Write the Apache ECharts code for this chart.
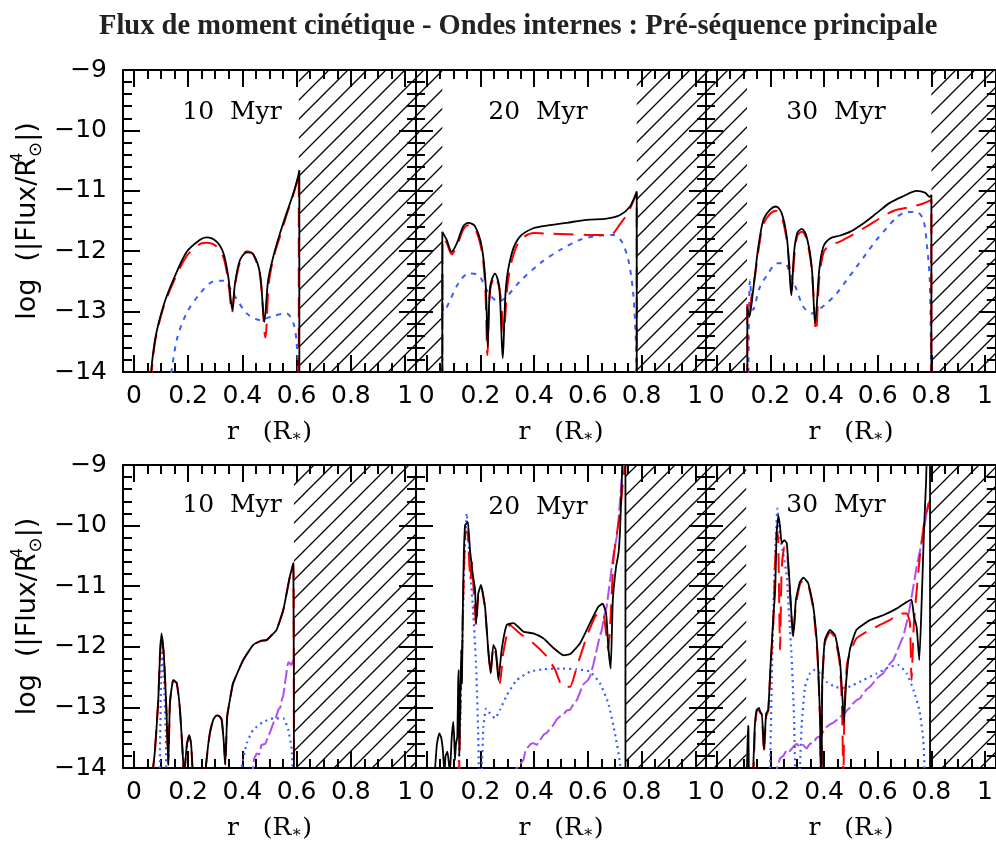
<!DOCTYPE html>
<html>
<head>
<meta charset="utf-8">
<script src="https://cdn.jsdelivr.net/npm/echarts@6/dist/echarts.min.js"></script>
<style>
  html, body { margin: 0; background: #fff; }
  #chart { width: 996px; height: 845px; }
</style>
</head>
<body>
<div id="chart"></div>
<script>
// ---- data: [r/R*, log|Flux|] ----
const ages = ['10  Myr', '20  Myr', '30  Myr'];
const xTicks = [0, 0.2, 0.4, 0.6, 0.8, 1];
const xMinor = [0.05, 0.1, 0.15, 0.25, 0.3, 0.35, 0.45, 0.5, 0.55, 0.65, 0.7, 0.75, 0.85, 0.9, 0.95];

// top row (pre-main sequence, without purple term)
const black10a = [[0.059,-14.2],[0.078,-13.47],[0.108,-12.92],[0.145,-12.48],[0.195,-12.01],[0.244,-11.81],[0.268,-11.77],[0.305,-11.84],[0.33,-12.03],[0.348,-12.42],[0.363,-12.97],[0.373,-12.53],[0.391,-12.15],[0.416,-12.02],[0.44,-12.05],[0.465,-12.37],[0.481,-13.17],[0.495,-12.48],[0.514,-12.09],[0.539,-11.7],[0.563,-11.37],[0.588,-11.04],[0.604,-10.79],[0.61,-10.66],[0.61,-14.2]];
const red10a = [[0.062,-14.2],[0.078,-13.5],[0.108,-12.95],[0.145,-12.52],[0.195,-12.08],[0.244,-11.88],[0.268,-11.86],[0.305,-11.92],[0.33,-12.1],[0.348,-12.5],[0.362,-13.02],[0.372,-12.6],[0.39,-12.2],[0.416,-12.0],[0.44,-12.05],[0.465,-12.4],[0.485,-13.43],[0.497,-12.55],[0.514,-12.12],[0.539,-11.75],[0.563,-11.4],[0.588,-11.06],[0.604,-10.8],[0.608,-10.7],[0.608,-14.2]];
const blue10a = [[0.133,-14.2],[0.158,-13.47],[0.195,-13.02],[0.244,-12.7],[0.293,-12.5],[0.33,-12.49],[0.366,-12.7],[0.416,-13.03],[0.465,-13.14],[0.514,-13.07],[0.563,-13.03],[0.588,-13.19],[0.6,-13.52],[0.607,-14.2]];

const black20a = [[0.058,-14.2],[0.058,-11.68],[0.074,-11.81],[0.093,-12.01],[0.112,-11.87],[0.136,-11.59],[0.155,-11.53],[0.18,-11.59],[0.205,-11.93],[0.22,-12.59],[0.227,-13.58],[0.236,-12.59],[0.254,-12.37],[0.27,-12.59],[0.283,-13.77],[0.295,-12.59],[0.317,-12.03],[0.347,-11.76],[0.397,-11.62],[0.459,-11.57],[0.521,-11.53],[0.596,-11.48],[0.67,-11.46],[0.72,-11.4],[0.757,-11.26],[0.782,-11.01],[0.782,-14.2]];
const red20a = [[0.058,-14.2],[0.059,-11.78],[0.074,-11.86],[0.093,-12.05],[0.112,-11.92],[0.136,-11.64],[0.155,-11.57],[0.18,-11.63],[0.205,-12.0],[0.218,-12.6],[0.226,-13.72],[0.236,-12.65],[0.254,-12.42],[0.272,-12.65],[0.287,-13.33],[0.3,-12.6],[0.317,-12.15],[0.347,-11.82],[0.4,-11.7],[0.46,-11.71],[0.53,-11.72],[0.6,-11.73],[0.683,-11.73],[0.72,-11.55],[0.751,-11.35],[0.776,-11.1],[0.782,-11.05],[0.782,-14.2]];
const blue20a = [[0.058,-14.2],[0.058,-12.37],[0.062,-13.0],[0.072,-12.95],[0.087,-12.81],[0.118,-12.53],[0.155,-12.37],[0.192,-12.39],[0.223,-12.64],[0.267,-12.84],[0.298,-12.75],[0.347,-12.5],[0.422,-12.2],[0.496,-11.98],[0.571,-11.81],[0.633,-11.75],[0.695,-11.73],[0.726,-11.84],[0.751,-12.15],[0.769,-12.7],[0.779,-13.52],[0.782,-14.2]];

const black30a = [[0.114,-14.2],[0.114,-12.92],[0.122,-13.08],[0.13,-12.86],[0.143,-12.37],[0.155,-11.93],[0.174,-11.48],[0.199,-11.31],[0.221,-11.26],[0.242,-11.37],[0.261,-11.76],[0.27,-12.26],[0.278,-12.73],[0.288,-12.03],[0.3,-11.7],[0.317,-11.63],[0.335,-11.76],[0.354,-12.26],[0.367,-13.19],[0.382,-12.31],[0.397,-11.93],[0.422,-11.79],[0.459,-11.74],[0.496,-11.68],[0.546,-11.54],[0.596,-11.37],[0.645,-11.2],[0.695,-11.09],[0.745,-11.0],[0.776,-11.03],[0.794,-11.1],[0.8,-11.07],[0.8,-14.2]];
const red30a = [[0.114,-14.2],[0.114,-12.85],[0.122,-13.0],[0.13,-12.75],[0.143,-12.4],[0.155,-12.0],[0.174,-11.55],[0.199,-11.38],[0.221,-11.33],[0.242,-11.44],[0.261,-11.82],[0.272,-12.3],[0.279,-12.65],[0.289,-12.1],[0.3,-11.75],[0.317,-11.68],[0.335,-11.8],[0.354,-12.3],[0.37,-13.33],[0.383,-12.4],[0.4,-12.0],[0.422,-11.9],[0.459,-11.84],[0.51,-11.72],[0.559,-11.59],[0.61,-11.45],[0.66,-11.33],[0.72,-11.27],[0.77,-11.21],[0.8,-11.15],[0.8,-14.2]];
const blue30a = [[0.118,-14.2],[0.124,-12.48],[0.136,-12.97],[0.161,-12.59],[0.192,-12.37],[0.223,-12.2],[0.254,-12.2],[0.273,-12.37],[0.298,-12.64],[0.323,-12.92],[0.354,-13.03],[0.385,-12.95],[0.41,-12.86],[0.447,-12.7],[0.484,-12.48],[0.521,-12.26],[0.559,-12.03],[0.596,-11.81],[0.633,-11.62],[0.67,-11.44],[0.708,-11.35],[0.745,-11.35],[0.77,-11.48],[0.784,-11.93],[0.794,-12.48],[0.8,-14.2]];

// bottom row (with purple term)
const black10b = [[0.066,-14.2],[0.078,-13.7],[0.09,-12.88],[0.096,-12.16],[0.102,-11.78],[0.111,-12.16],[0.121,-13.15],[0.127,-13.95],[0.133,-12.93],[0.145,-12.55],[0.158,-12.6],[0.17,-13.04],[0.182,-13.92],[0.184,-14.3],[0.188,-14.0],[0.196,-13.6],[0.204,-13.46],[0.211,-13.6],[0.216,-14.0],[0.22,-14.3],[0.262,-14.3],[0.265,-14.0],[0.28,-13.43],[0.293,-13.2],[0.305,-13.13],[0.316,-13.15],[0.324,-13.21],[0.332,-13.6],[0.337,-13.95],[0.344,-13.15],[0.355,-12.85],[0.366,-12.6],[0.403,-12.22],[0.44,-11.97],[0.47,-11.9],[0.489,-11.89],[0.51,-11.8],[0.526,-11.72],[0.551,-11.39],[0.575,-10.84],[0.588,-10.62],[0.59,-14.2]];
const red10b = black10b;
const blue10b = [[0.095,-14.2],[0.1,-12.6],[0.106,-12.0],[0.111,-12.6],[0.118,-13.43],[0.124,-14.3],[0.395,-14.3],[0.397,-14.0],[0.416,-13.59],[0.44,-13.37],[0.477,-13.24],[0.514,-13.18],[0.551,-13.18],[0.569,-13.37],[0.582,-13.7],[0.586,-14.2]];
const purple10b = [[0.434,-14.2],[0.443,-13.85],[0.453,-13.76],[0.462,-13.78],[0.47,-13.62],[0.477,-13.59],[0.485,-13.6],[0.495,-13.48],[0.503,-13.4],[0.514,-13.26],[0.522,-13.2],[0.532,-13.04],[0.54,-13.0],[0.545,-12.88],[0.551,-12.8],[0.557,-12.6],[0.562,-12.45],[0.565,-12.33],[0.57,-12.25],[0.575,-12.22],[0.58,-12.3],[0.585,-12.27],[0.59,-12.2]];

const black20b = [[0.025,-14.2],[0.031,-14.0],[0.038,-13.6],[0.047,-13.43],[0.054,-13.5],[0.06,-13.7],[0.066,-14.1],[0.07,-13.8],[0.077,-13.73],[0.082,-13.9],[0.086,-14.1],[0.093,-13.5],[0.099,-13.24],[0.103,-13.6],[0.105,-13.87],[0.109,-13.6],[0.114,-13.48],[0.117,-12.6],[0.119,-12.38],[0.121,-13.8],[0.124,-13.2],[0.128,-12.05],[0.131,-12.6],[0.134,-11.5],[0.138,-10.5],[0.143,-9.99],[0.153,-9.94],[0.161,-10.4],[0.171,-10.79],[0.18,-11.06],[0.184,-11.61],[0.192,-11.12],[0.202,-10.98],[0.217,-11.34],[0.229,-12.05],[0.238,-12.44],[0.248,-11.97],[0.257,-12.05],[0.267,-12.55],[0.279,-12.05],[0.298,-11.64],[0.323,-11.61],[0.36,-11.75],[0.397,-11.78],[0.434,-11.86],[0.472,-12.02],[0.509,-12.14],[0.534,-12.12],[0.571,-11.94],[0.608,-11.61],[0.639,-11.34],[0.655,-11.29],[0.668,-11.45],[0.676,-12.0],[0.685,-12.36],[0.693,-11.23],[0.705,-10.68],[0.714,-10.46],[0.72,-10.07],[0.726,-9.3],[0.732,-8.7],[0.74,-8.7],[0.74,-14.2]];
const red20b = [[0.12,-14.2],[0.125,-13.0],[0.131,-12.2],[0.138,-10.8],[0.145,-10.1],[0.152,-10.1],[0.158,-10.6],[0.163,-10.9],[0.168,-10.6],[0.175,-11.1],[0.184,-11.65],[0.192,-11.15],[0.202,-11.0],[0.217,-11.36],[0.229,-12.05],[0.238,-12.44],[0.248,-12.0],[0.257,-12.1],[0.273,-12.6],[0.285,-12.1],[0.31,-11.64],[0.347,-11.78],[0.397,-11.94],[0.447,-12.16],[0.478,-12.38],[0.506,-12.66],[0.534,-12.66],[0.559,-12.33],[0.596,-11.83],[0.627,-11.5],[0.645,-11.42],[0.66,-11.5],[0.676,-12.05],[0.685,-11.5],[0.695,-10.57],[0.708,-10.13],[0.72,-9.8],[0.73,-9.3],[0.738,-9.0]];
const blue20b = [[0.117,-14.2],[0.125,-13.2],[0.132,-12.0],[0.14,-10.6],[0.149,-9.8],[0.161,-10.68],[0.174,-11.5],[0.184,-12.33],[0.192,-13.48],[0.196,-14.3],[0.203,-14.3],[0.205,-14.0],[0.211,-13.32],[0.221,-13.02],[0.236,-13.1],[0.254,-13.18],[0.273,-13.04],[0.298,-12.8],[0.335,-12.55],[0.385,-12.41],[0.434,-12.37],[0.496,-12.36],[0.559,-12.37],[0.608,-12.41],[0.645,-12.6],[0.676,-12.93],[0.701,-13.43],[0.72,-13.92],[0.722,-14.2]];
const purple20b = [[0.323,-14.2],[0.335,-14.0],[0.345,-13.95],[0.36,-13.87],[0.368,-13.7],[0.378,-13.65],[0.388,-13.6],[0.397,-13.59],[0.41,-13.62],[0.422,-13.54],[0.435,-13.45],[0.447,-13.42],[0.459,-13.35],[0.47,-13.3],[0.484,-13.2],[0.496,-13.15],[0.509,-13.12],[0.521,-13.05],[0.534,-13.04],[0.546,-12.95],[0.559,-12.88],[0.571,-12.75],[0.583,-12.62],[0.59,-12.6],[0.6,-12.55],[0.608,-12.49],[0.62,-12.3],[0.633,-12.05],[0.643,-11.85],[0.652,-11.72],[0.66,-11.5],[0.67,-11.34],[0.68,-11.0],[0.689,-10.68],[0.698,-10.4],[0.708,-10.18],[0.715,-9.85],[0.72,-9.58],[0.73,-9.0]];

const black30b = [[0.112,-14.2],[0.116,-13.3],[0.118,-13.32],[0.121,-14.2],[0.133,-14.2],[0.136,-14.0],[0.142,-13.3],[0.149,-13.04],[0.158,-13.01],[0.163,-13.1],[0.168,-13.1],[0.176,-13.7],[0.184,-13.1],[0.192,-13.04],[0.201,-12.27],[0.211,-11.5],[0.218,-11.06],[0.223,-10.13],[0.23,-9.83],[0.236,-10.02],[0.242,-10.29],[0.252,-10.24],[0.261,-10.29],[0.27,-10.84],[0.279,-11.5],[0.285,-11.83],[0.295,-11.23],[0.31,-10.93],[0.323,-10.86],[0.341,-10.95],[0.36,-11.34],[0.375,-12.05],[0.385,-13.15],[0.388,-14.2],[0.391,-14.2],[0.393,-12.6],[0.403,-11.89],[0.422,-11.72],[0.441,-11.81],[0.459,-12.22],[0.469,-12.88],[0.474,-13.26],[0.482,-12.6],[0.496,-12.05],[0.521,-11.72],[0.571,-11.56],[0.62,-11.48],[0.67,-11.37],[0.708,-11.26],[0.726,-11.22],[0.735,-11.5],[0.745,-11.67],[0.755,-12.22],[0.764,-11.23],[0.772,-10.13],[0.78,-9.3],[0.785,-8.7],[0.795,-8.7],[0.795,-14.2]];
const red30b = [[0.12,-14.2],[0.136,-14.1],[0.142,-13.4],[0.149,-13.06],[0.158,-13.05],[0.168,-13.12],[0.176,-13.75],[0.184,-13.15],[0.192,-13.06],[0.201,-12.3],[0.211,-11.6],[0.217,-10.68],[0.224,-10.1],[0.229,-10.2],[0.236,-12.05],[0.242,-10.7],[0.252,-10.35],[0.261,-10.4],[0.27,-10.9],[0.279,-11.55],[0.285,-11.85],[0.295,-11.3],[0.31,-10.97],[0.323,-10.9],[0.341,-10.98],[0.36,-11.38],[0.375,-12.1],[0.385,-13.2],[0.388,-14.2],[0.391,-14.2],[0.393,-12.65],[0.403,-11.93],[0.422,-11.76],[0.441,-11.85],[0.459,-12.3],[0.467,-13.0],[0.472,-14.2],[0.476,-13.0],[0.485,-12.3],[0.496,-12.1],[0.521,-11.86],[0.571,-11.72],[0.645,-11.56],[0.683,-11.45],[0.708,-11.45],[0.72,-11.6],[0.726,-12.55],[0.735,-11.6],[0.757,-10.51],[0.775,-9.9],[0.795,-9.58]];
const blue30b = [[0.198,-14.2],[0.205,-12.6],[0.213,-11.1],[0.221,-10.13],[0.226,-9.72],[0.236,-10.18],[0.248,-10.46],[0.261,-10.84],[0.27,-11.5],[0.279,-12.16],[0.288,-13.15],[0.295,-14.3],[0.308,-14.3],[0.31,-14.0],[0.317,-13.26],[0.329,-12.66],[0.347,-12.44],[0.366,-12.38],[0.385,-12.44],[0.41,-12.58],[0.441,-12.66],[0.478,-12.68],[0.509,-12.63],[0.546,-12.55],[0.596,-12.44],[0.645,-12.33],[0.676,-12.3],[0.708,-12.44],[0.733,-12.71],[0.755,-13.04],[0.77,-13.54],[0.776,-14.2]];
const purple30b = [[0.217,-14.2],[0.225,-14.0],[0.236,-13.84],[0.248,-13.8],[0.261,-13.7],[0.272,-13.72],[0.285,-13.65],[0.298,-13.6],[0.31,-13.65],[0.322,-13.62],[0.335,-13.68],[0.347,-13.6],[0.36,-13.59],[0.372,-13.5],[0.385,-13.48],[0.397,-13.4],[0.41,-13.32],[0.422,-13.28],[0.435,-13.25],[0.447,-13.21],[0.46,-13.15],[0.472,-13.13],[0.485,-13.05],[0.497,-13.0],[0.509,-12.93],[0.521,-12.88],[0.534,-12.85],[0.546,-12.77],[0.559,-12.7],[0.571,-12.66],[0.583,-12.6],[0.596,-12.52],[0.608,-12.48],[0.62,-12.44],[0.633,-12.35],[0.645,-12.28],[0.658,-12.22],[0.67,-12.1],[0.683,-11.95],[0.695,-11.83],[0.708,-11.6],[0.72,-11.34],[0.733,-11.0],[0.745,-10.68],[0.758,-10.4],[0.77,-10.13],[0.78,-9.85],[0.788,-9.63]];

// hatched (excluded) zones, [r0, r1]
const hatch10a = [[0.608, 1.04]];
const hatch20a = [[-0.04, 0.058], [0.782, 1.04]];
const hatch30a = [[-0.04, 0.113], [0.8, 1.04]];
const hatch10b = [[0.59, 1.04]];
const hatch20b = [[0.74, 1.04]];
const hatch30b = [[-0.04, 0.11], [0.795, 1.04]];

const panels = [
  { age: ages[0], black: black10a, red: red10a, blue: blue10a, purple: null, hatch: hatch10a },
  { age: ages[1], black: black20a, red: red20a, blue: blue20a, purple: null, hatch: hatch20a },
  { age: ages[2], black: black30a, red: red30a, blue: blue30a, purple: null, hatch: hatch30a },
  { age: ages[0], black: black10b, red: red10b, blue: blue10b, purple: purple10b, hatch: hatch10b },
  { age: ages[1], black: black20b, red: red20b, blue: blue20b, purple: purple20b, hatch: hatch20b },
  { age: ages[2], black: black30b, red: red30b, blue: blue30b, purple: purple30b, hatch: hatch30b }
];

// ---- layout ----
const gridBoxes = [
  { left: 123, top: 70, width: 293, height: 302 },
  { left: 416, top: 70, width: 290, height: 302 },
  { left: 706, top: 70, width: 292, height: 302 },
  { left: 123, top: 465, width: 293, height: 303 },
  { left: 416, top: 465, width: 290, height: 303 },
  { left: 706, top: 465, width: 292, height: 303 }
];
const agePos = [[232, 112], [538, 112], [836, 112], [232, 505], [538, 507], [836, 505]];

// hatch pattern
const hatchCanvas = document.createElement('canvas');
hatchCanvas.width = 19;
hatchCanvas.height = 19;
const hc = hatchCanvas.getContext('2d');
hc.strokeStyle = '#000';
hc.lineWidth = 1.3;
hc.beginPath();
hc.moveTo(0, 19); hc.lineTo(19, 0);
hc.moveTo(-2, 2); hc.lineTo(2, -2);
hc.moveTo(17, 21); hc.lineTo(21, 17);
hc.stroke();

const FONT = 'DejaVu Sans';
const minus = v => (v < 0 ? '\u2212' + Math.abs(v) : String(v));

const grid = [];
const xAxis = [];
const yAxis = [];
const series = [];
const graphic = [];

panels.forEach((p, i) => {
  grid.push(Object.assign({ containLabel: false }, gridBoxes[i]));
  const firstCol = i % 3 === 0;
  const xBase = {
    type: 'value', gridIndex: i, min: -0.04, max: 1.04,
    splitLine: { show: false }
  };
  // bottom major
  xAxis.push(Object.assign({}, xBase, {
    position: 'bottom',
    axisLine: { show: true, onZero: false, lineStyle: { color: '#000', width: 2 } },
    axisTick: { show: true, inside: true, length: 17, customValues: xTicks, lineStyle: { color: '#000', width: 2 } },
    axisLabel: { show: true, customValues: xTicks, margin: 12, color: '#000', fontFamily: FONT, fontSize: 25,
      formatter: v => String(v) },
    name: 'r   (R{s|\u2217})', nameLocation: 'middle', nameGap: 48,
    nameTextStyle: { fontFamily: 'DejaVu Serif', fontSize: 25, color: '#000',
      rich: { s: { fontFamily: 'DejaVu Serif', fontSize: 16, verticalAlign: 'bottom', color: '#000' } } }
  }));
  // bottom minor
  xAxis.push(Object.assign({}, xBase, {
    position: 'bottom',
    axisLine: { show: false, onZero: false },
    axisTick: { show: true, inside: true, length: 9, customValues: xMinor, lineStyle: { color: '#000', width: 2 } },
    axisLabel: { show: false }
  }));
  // top major
  xAxis.push(Object.assign({}, xBase, {
    position: 'top',
    axisLine: { show: true, onZero: false, lineStyle: { color: '#000', width: 2 } },
    axisTick: { show: true, inside: true, length: 17, customValues: xTicks, lineStyle: { color: '#000', width: 2 } },
    axisLabel: { show: false }
  }));
  // top minor
  xAxis.push(Object.assign({}, xBase, {
    position: 'top',
    axisLine: { show: false, onZero: false },
    axisTick: { show: true, inside: true, length: 9, customValues: xMinor, lineStyle: { color: '#000', width: 2 } },
    axisLabel: { show: false }
  }));

  const yBase = {
    type: 'value', gridIndex: i, min: -14, max: -9, interval: 1,
    splitLine: { show: false },
    axisLine: { show: true, onZero: false, lineStyle: { color: '#000', width: 2 } },
    axisTick: { show: true, inside: true, length: 17, lineStyle: { color: '#000', width: 2 } },
    minorTick: { show: true, splitNumber: 5, length: 9, lineStyle: { color: '#000', width: 2 } }
  };
  yAxis.push(Object.assign({}, yBase, {
    position: 'left',
    axisLabel: { show: firstCol, margin: 16, color: '#000', fontFamily: FONT, fontSize: 25, formatter: minus },
    name: firstCol ? 'log  (|Flux/R{sup|4}{sub|\u2299}|)' : '',
    nameLocation: 'middle', nameGap: 78,
    nameTextStyle: { fontFamily: FONT, fontSize: 27, color: '#000', lineHeight: 34,
      rich: {
        sup: { fontFamily: FONT, fontSize: 15, verticalAlign: 'top', width: 1, color: '#000' },
        sub: { fontFamily: FONT, fontSize: 18, verticalAlign: 'bottom', color: '#000' }
      } }
  }));
  yAxis.push(Object.assign({}, yBase, {
    position: 'right',
    axisLabel: { show: false }
  }));

  const xi = i * 4;
  const yi = i * 2;
  const topRow = i < 3;

  // hatched areas (attached to an invisible carrier series)
  series.push({
    type: 'line', xAxisIndex: xi, yAxisIndex: yi, data: [], silent: true,
    markArea: {
      silent: true,
      itemStyle: { color: { image: hatchCanvas, repeat: 'repeat' }, borderWidth: 0 },
      data: p.hatch.map(h => [{ xAxis: h[0], yAxis: -14 }, { xAxis: h[1], yAxis: -9 }])
    }
  });
  if (p.purple) {
    series.push({
      type: 'line', xAxisIndex: xi, yAxisIndex: yi, data: p.purple, showSymbol: false,
      lineStyle: { color: '#b050f0', width: 2, type: [14, 4] }
    });
  }
  series.push({
    type: 'line', xAxisIndex: xi, yAxisIndex: yi, data: p.blue, showSymbol: false,
    smooth: topRow ? 0.3 : 0.15,
    lineStyle: topRow ? { color: '#3a5cff', width: 2, type: [5, 6] }
                      : { color: '#3a5cff', width: 2.2, type: [2, 4] }
  });
  series.push({
    type: 'line', xAxisIndex: xi, yAxisIndex: yi, data: p.red, showSymbol: false,
    smooth: topRow ? 0.3 : 0.15,
    lineStyle: { color: '#ff0000', width: 2, type: [20, 10] }
  });
  series.push({
    type: 'line', xAxisIndex: xi, yAxisIndex: yi, data: p.black, showSymbol: false,
    smooth: topRow ? 0.3 : 0.15,
    lineStyle: { color: '#000', width: 1.8 }
  });

  graphic.push({ x: agePos[i][0], y: agePos[i][1], text: p.age });
});

const chart = echarts.init(document.getElementById('chart'), null, { renderer: 'canvas' });
chart.setOption({
  animation: false,
  backgroundColor: '#fff',
  title: {
    text: 'Flux de moment cinétique - Ondes internes : Pré-séquence principale',
    left: 94, top: 7,
    textStyle: { fontFamily: 'Liberation Serif', fontWeight: 'bold', fontSize: 28.5, color: '#222' }
  },
  grid: grid,
  xAxis: xAxis,
  yAxis: yAxis,
  series: series,
  graphic: graphic.map(g => ({
    type: 'text', x: g.x, y: g.y, z: 100, silent: true,
    style: { text: g.text, fill: '#000', font: '25px "DejaVu Serif"', align: 'center', verticalAlign: 'middle' }
  }))
});
</script>
</body>
</html>
